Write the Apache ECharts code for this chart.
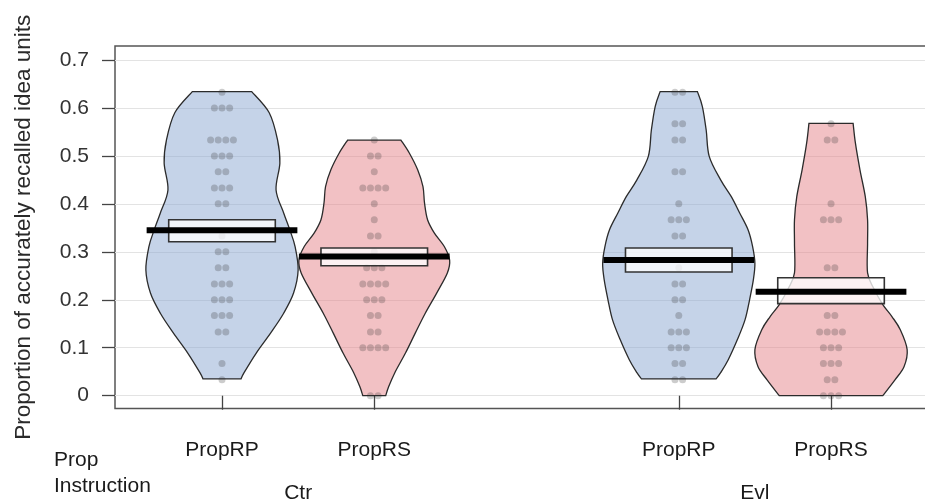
<!DOCTYPE html>
<html><head><meta charset="utf-8">
<script src="https://cdn.jsdelivr.net/npm/echarts@6/dist/echarts.min.js"></script>
<style>html,body{margin:0;padding:0;background:#fff}#c{width:925px;height:501px}</style>
</head><body><div id="c"></div>
<script>
// ---------- data ----------
const instrLabels = ['PropRP', 'PropRS', 'PropRP', 'PropRS'];
const groupLabels = ['Ctr', 'Evl'];
const slots = [1, 2, 4, 5];          // slot index of each violin (slot 3 is the gap)
const groupSlots = [1.5, 4.5];
const yTicks = [0, 0.1, 0.2, 0.3, 0.4, 0.5, 0.6, 0.7];

// individual observations (proportions)
const ctrRP = [0.633, 0.6, 0.6, 0.6, 0.533, 0.533, 0.533, 0.533, 0.5, 0.5, 0.5, 0.467, 0.467,
  0.433, 0.433, 0.433, 0.4, 0.4, 0.333, 0.3, 0.3, 0.267, 0.267, 0.233, 0.233, 0.233,
  0.2, 0.2, 0.2, 0.167, 0.167, 0.167, 0.133, 0.133, 0.067, 0.033];
const ctrRS = [0.533, 0.5, 0.5, 0.467, 0.433, 0.433, 0.433, 0.433, 0.4, 0.367, 0.333, 0.333,
  0.3, 0.267, 0.267, 0.267, 0.233, 0.233, 0.233, 0.233, 0.2, 0.2, 0.2, 0.167, 0.167,
  0.133, 0.133, 0.1, 0.1, 0.1, 0.1, 0, 0];
const evlRP = [0.633, 0.633, 0.567, 0.567, 0.533, 0.533, 0.467, 0.467, 0.4, 0.367, 0.367, 0.367,
  0.333, 0.333, 0.267, 0.233, 0.233, 0.2, 0.2, 0.167, 0.133, 0.133, 0.133, 0.1, 0.1, 0.1,
  0.067, 0.067, 0.033, 0.033];
const evlRS = [0.567, 0.533, 0.533, 0.4, 0.367, 0.367, 0.367, 0.267, 0.267, 0.167, 0.167,
  0.133, 0.133, 0.133, 0.133, 0.1, 0.1, 0.1, 0.067, 0.067, 0.067, 0.033, 0.033, 0, 0, 0];

// means and 95% intervals
const means  = [0.345, 0.290, 0.283, 0.217];
const ciLow  = [0.321, 0.271, 0.258, 0.192];
const ciHigh = [0.367, 0.308, 0.308, 0.246];

// violin density profiles: [value, relative density]
const densCtrRP = [[0.035,0.25],[0.048,0.29],[0.089,0.45],[0.131,0.64],[0.172,0.81],[0.214,0.94],
  [0.262,1.0],[0.311,0.96],[0.346,0.89],[0.381,0.81],[0.429,0.71],[0.485,0.76],[0.533,0.73],
  [0.59,0.62],[0.634,0.39]];
const densCtrRS = [[0.0,0.15],[0.019,0.19],[0.048,0.27],[0.089,0.41],[0.131,0.54],[0.172,0.67],
  [0.214,0.82],[0.256,0.96],[0.283,0.99],[0.311,0.92],[0.339,0.79],[0.367,0.70],[0.402,0.66],
  [0.436,0.64],[0.471,0.57],[0.506,0.46],[0.533,0.35]];
const densEvlRP = [[0.035,0.49],[0.048,0.55],[0.075,0.65],[0.117,0.77],[0.158,0.87],[0.2,0.93],
  [0.242,0.98],[0.276,1.0],[0.311,0.97],[0.346,0.91],[0.381,0.80],[0.415,0.69],[0.45,0.55],
  [0.499,0.40],[0.554,0.36],[0.603,0.31],[0.634,0.245]];
const densEvlRS = [[0.0,0.68],[0.033,0.84],[0.061,0.96],[0.096,1.0],[0.1375,0.91],[0.165,0.80],
  [0.19,0.68],[0.224,0.56],[0.256,0.48],[0.318,0.48],[0.367,0.48],[0.415,0.45],[0.471,0.38],
  [0.527,0.32],[0.568,0.29]];

// ---------- build ----------
const observations = [ctrRP, ctrRS, evlRP, evlRS];
const profiles = [densCtrRP, densCtrRS, densEvlRP, densEvlRS];
const fills = ['rgba(139,167,210,0.5)', 'rgba(229,131,137,0.5)', 'rgba(139,167,210,0.5)', 'rgba(229,131,137,0.5)'];
const HALF = 0.5, BOXW = 0.35, MEANW = 0.495, JIT = 0.05;

const dots = [];
observations.forEach((arr, i) => {
  const counts = {};
  arr.forEach(v => { counts[v] = (counts[v] || 0) + 1; });
  const seen = {};
  arr.forEach(v => {
    const n = counts[v]; const k = seen[v] || 0; seen[v] = k + 1;
    dots.push([slots[i] + (k - (n - 1) / 2) * JIT, v]);
  });
});

function curve(pts) {
  let s = '';
  for (let k = 0; k < pts.length - 1; k++) {
    const p0 = pts[k - 1] || pts[k], p1 = pts[k], p2 = pts[k + 1], p3 = pts[k + 2] || pts[k + 1];
    const c1 = [p1[0] + (p2[0] - p0[0]) / 6, p1[1] + (p2[1] - p0[1]) / 6];
    const c2 = [p2[0] - (p3[0] - p1[0]) / 6, p2[1] - (p3[1] - p1[1]) / 6];
    s += ' C' + c1[0] + ',' + c1[1] + ' ' + c2[0] + ',' + c2[1] + ' ' + p2[0] + ',' + p2[1];
  }
  return s;
}

function violinItem(params, api) {
  const i = api.value(0);
  const prof = profiles[i], s = slots[i];
  const right = prof.map(p => api.coord([s + p[1] * HALF, p[0]]));
  const left = prof.map(p => api.coord([s - p[1] * HALF, p[0]])).reverse();
  const d = 'M' + right[0][0] + ',' + right[0][1] + curve(right) +
    ' L' + left[0][0] + ',' + left[0][1] + curve(left) + ' Z';
  return {
    type: 'path', shape: { pathData: d },
    style: { fill: fills[i], stroke: '#2b2b2b', lineWidth: 1.3 }
  };
}

function meanItem(params, api) {
  const i = api.value(0), s = slots[i];
  const tl = api.coord([s - BOXW, ciHigh[i]]), br = api.coord([s + BOXW, ciLow[i]]);
  const l = api.coord([s - MEANW, means[i]]), r = api.coord([s + MEANW, means[i]]);
  return {
    type: 'group', children: [
      { type: 'rect', shape: { x: tl[0], y: tl[1], width: br[0] - tl[0], height: br[1] - tl[1] },
        style: { fill: 'rgba(255,255,255,0.78)', stroke: '#333', lineWidth: 1.6 } },
      { type: 'line', shape: { x1: l[0], y1: l[1], x2: r[0], y2: r[1] },
        style: { stroke: '#000', lineWidth: 6 } }
    ]
  };
}

const chart = echarts.init(document.getElementById('c'), null, { renderer: 'canvas' });
const FONT = 'Liberation Sans, Arial, sans-serif';
chart.setOption({
  animation: false,
  backgroundColor: '#fff',
  grid: { show: true, left: 115, top: 46, right: -12, bottom: 92.5, containLabel: false, outerBoundsMode: 'none',
    borderColor: '#555', borderWidth: 1.5, backgroundColor: 'transparent' },
  xAxis: [{
    type: 'value', min: 0.2972, max: 5.696,
    axisLine: { show: false },
    axisTick: { show: true, customValues: slots, length: 14, lineStyle: { color: '#444', width: 1.3 } },
    axisLabel: { customValues: slots, margin: 31, fontSize: 21, fontFamily: FONT, color: '#1a1a1a',
      formatter: v => instrLabels[slots.indexOf(v)] },
    splitLine: { show: false }
  }, {
    type: 'value', min: 0.2972, max: 5.696, position: 'bottom',
    axisLine: { show: false }, axisTick: { show: false },
    axisLabel: { customValues: groupSlots, margin: 74, fontSize: 21, fontFamily: FONT, color: '#1a1a1a',
      formatter: v => groupLabels[groupSlots.indexOf(v)] },
    splitLine: { show: false }
  }],
  yAxis: {
    type: 'value', min: -0.0267, max: 0.7292,
    name: 'Proportion of accurately recalled idea units', nameLocation: 'middle', nameRotate: 90, nameGap: 80,
    nameTextStyle: { fontSize: 22.5, fontFamily: FONT, color: '#2a2a2a' },
    axisLine: { show: false },
    axisTick: { show: true, customValues: yTicks, length: 13, lineStyle: { color: '#444', width: 1.3 } },
    axisLabel: { customValues: yTicks, margin: 26, fontSize: 21, fontFamily: FONT, color: '#333',
      formatter: v => String(+v.toFixed(1)) },
    splitLine: { show: true, lineStyle: { color: '#e3e3e3', width: 1.2 } }
  },
  graphic: [
    { type: 'text', left: 54, top: 450, style: { text: 'Prop', fontSize: 21, fontFamily: FONT, fill: '#1a1a1a' } },
    { type: 'text', left: 54, top: 476, style: { text: 'Instruction', fontSize: 21, fontFamily: FONT, fill: '#1a1a1a' } }
  ],
  series: [
    { type: 'custom', renderItem: violinItem, data: [[0], [1], [2], [3]], z: 2, silent: true },
    { type: 'scatter', data: dots, symbolSize: 7, z: 3, silent: true,
      itemStyle: { color: 'rgba(45,45,45,0.3)' } },
    { type: 'custom', renderItem: meanItem, data: [[0], [1], [2], [3]], z: 4, silent: true }
  ]
});
</script></body></html>
